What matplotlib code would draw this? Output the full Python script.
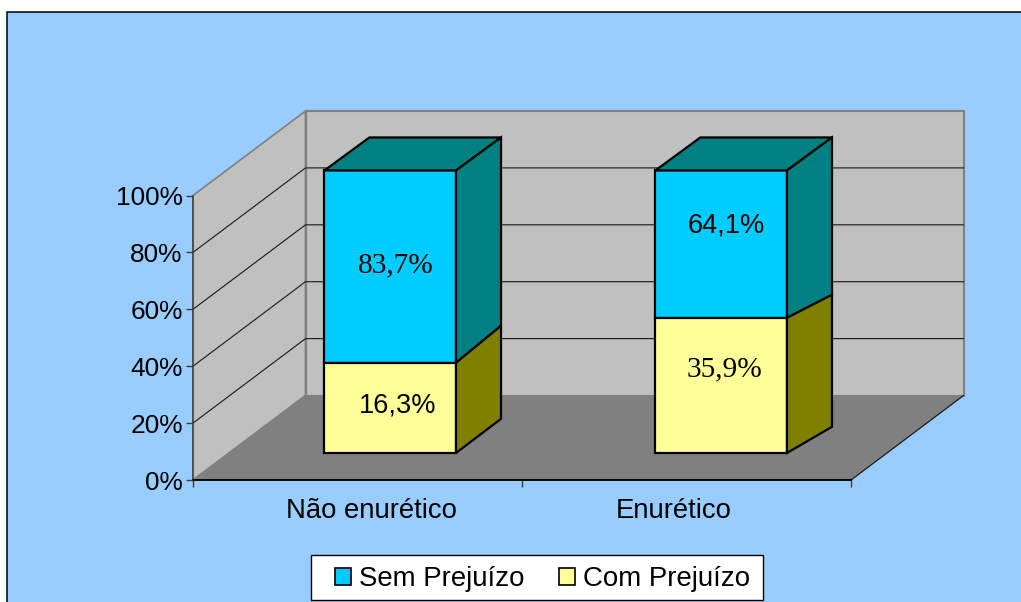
import matplotlib
matplotlib.use("Agg")
import matplotlib.pyplot as plt
from matplotlib.patches import Polygon, Rectangle
from matplotlib.ticker import PercentFormatter

# ---- data ----
categories = ["Não enurético", "Enurético"]
series_names = ["Sem Prejuízo", "Com Prejuízo"]
com_prejuizo_drawn = [31.7, 47.5]      # drawn heights of lower block (%)
total_drawn = [99.3, 99.3]             # drawn height of the whole stack
labels_sem = ["83,7%", "64,1%"]
labels_com = ["16,3%", "35,9%"]
label_fonts_sem = ["Liberation Serif", "Liberation Sans"]
label_fonts_com = ["Liberation Sans", "Liberation Serif"]
bar_centres = [0.49, 1.496]
# rear rise of the side faces (in % units): top, split, base
rear_top = [11.6, 11.6]
rear_split = [13.0, 8.1]
rear_base = [12.0, 9.2]
yticks = [0, 20, 40, 60, 80, 100]

W, H = 1021, 602
fig = plt.figure(figsize=(W / 100, H / 100), dpi=100, facecolor="white")
FONT = "Liberation Sans"
FS = 18.9

# frame
fig.add_artist(Rectangle((6.5 / W, -0.02), (W - 6.5 + 10) / W, 1.02 - 11.5 / H,
                         transform=fig.transFigure, facecolor="#99CCFF",
                         edgecolor="black", lw=1.1, zorder=-5))

x0, x1, ytop, ybot = 193, 851, 195.5, 480
ax = fig.add_axes([x0 / W, 1 - ybot / H, (x1 - x0) / W, (ybot - ytop) / H], zorder=2)
ax.set_xlim(0, 2)
ax.set_ylim(0, 100)
ax.patch.set_visible(False)
for s in ("top", "right"):
    ax.spines[s].set_visible(False)
ax.spines["left"].set_color("#404040")
ax.spines["left"].set_linewidth(1.1)
ax.spines["bottom"].set_color("black")
ax.spines["bottom"].set_linewidth(1.1)

# depth vector in data units
DX = 112.5 / ((x1 - x0) / 2)
DY = 84.5 / ((ybot - ytop) / 100)

WALL, FLOOR, EDGE = "#C0C0C0", "#808080", "#808080"
def poly(pts, fc, ec, lw, z):
    ax.add_patch(Polygon(pts, closed=True, facecolor=fc, edgecolor=ec, lw=lw,
                         zorder=z, clip_on=False, joinstyle="miter"))

# walls and floor
poly([(DX, DY), (2 + DX, DY), (2 + DX, 100 + DY), (DX, 100 + DY)], WALL, EDGE, 1.5, 1)
poly([(0, 0), (DX, DY), (DX, 100 + DY), (0, 100)], WALL, EDGE, 1.2, 1)
poly([(0, 0), (2, 0), (2 + DX, DY), (DX, DY)], FLOOR, FLOOR, 0.8, 1)
ax.plot([2, 2 + DX], [0, DY], color="#202020", lw=0.9, zorder=2, clip_on=False)
ax.plot([0, 2], [0, 0], color="black", lw=1.1, zorder=2, clip_on=False)
ax.plot([DX, DX], [0 + DY, 100 + DY], color=EDGE, lw=1.6, zorder=2, clip_on=False)

# gridlines
for t in yticks[1:-1]:
    ax.plot([0, DX, 2 + DX], [t, t + DY, t + DY], color="#202020", lw=0.85,
            zorder=2, clip_on=False, solid_joinstyle="miter")

# bars
FRONT = 0.32
BW = 0.40
BAR_DX = 45 / ((x1 - x0) / 2)
TEAL, CYAN, YEL, OLIVE = "#008080", "#00CCFF", "#FFFF99", "#808000"
LW = 1.6
for i in range(2):
    l = bar_centres[i] - BW / 2 + FRONT * DX
    r = l + BW
    b = FRONT * DY
    s = b + com_prejuizo_drawn[i]
    t = b + total_drawn[i]
    rr = r + BAR_DX
    poly([(l, s), (r, s), (r, t), (l, t)], CYAN, "black", LW, 5)
    poly([(l, b), (r, b), (r, s), (l, s)], YEL, "black", LW, 5)
    poly([(l, t), (r, t), (rr, t + rear_top[i]), (l + BAR_DX, t + rear_top[i])], TEAL, "black", LW, 5)
    poly([(r, s), (rr, s + rear_split[i]), (rr, t + rear_top[i]), (r, t)], TEAL, "black", LW, 5)
    poly([(r, b), (rr, b + rear_base[i]), (rr, s + rear_split[i]), (r, s)], OLIVE, "black", LW, 5)

# value labels, positioned from the reference
sem_y = [(479.5 - 264.5) / 2.845, (479.5 - 225.5) / 2.845]
com_y = [(479.5 - 404.5) / 2.845, (479.5 - 368.5) / 2.845]
sem_x = [(395.5 - x0) / 329, (726 - x0) / 329]
com_x = [(397.5 - x0) / 329, (724 - x0) / 329]
for i in range(2):
    for xx, yy, txt, fam in ((sem_x[i], sem_y[i], labels_sem[i], label_fonts_sem[i]),
                             (com_x[i], com_y[i], labels_com[i], label_fonts_com[i])):
        ax.text(xx, yy, txt, ha="center", va="center", zorder=7, family=fam,
                fontsize=19.5 if fam == FONT else 21.2, color="black")

# axes ticks
ax.set_yticks(yticks)
ax.yaxis.set_major_formatter(PercentFormatter(100, decimals=0))
ax.tick_params(axis="y", length=5, width=1.0, color="#404040", pad=2.4, labelsize=FS)
ax.set_xticks([0, 1, 2])
ax.set_xticklabels([])
ax.tick_params(axis="x", which="major", length=5, width=1.0, color="#404040")
ax.set_xticks([(371 - x0) / 329, (674 - x0) / 329], minor=True)
ax.set_xticklabels(categories, minor=True)
ax.tick_params(axis="x", which="minor", length=0, pad=13, labelsize=19.8)
for lab in ax.get_xticklabels(minor=True) + ax.get_yticklabels():
    lab.set_family(FONT)
    lab.set_color("black")

# legend box + frameless legend (the box has uneven padding)
fig.add_artist(Rectangle((311 / W, 1 - 599.5 / H), 452 / W, 45 / H, transform=fig.transFigure,
                         facecolor="white", edgecolor="black", lw=1.0, zorder=10))
handles = [Rectangle((0, 0), 1, 1, facecolor=CYAN, edgecolor="black", lw=1.2),
           Rectangle((0, 0), 1, 1, facecolor=YEL, edgecolor="black", lw=1.2)]
leg = fig.legend(handles, series_names, ncol=2, loc="center",
                 bbox_to_anchor=(542.5 / W, 1 - 579.5 / H),
                 prop={"family": FONT, "size": 19.9}, frameon=False,
                 handlelength=0.58, handleheight=0.58, handletextpad=0.29,
                 columnspacing=1.27, borderpad=0, borderaxespad=0)
leg.set_zorder(20)

fig.savefig("out.png", dpi=100, facecolor="white")
